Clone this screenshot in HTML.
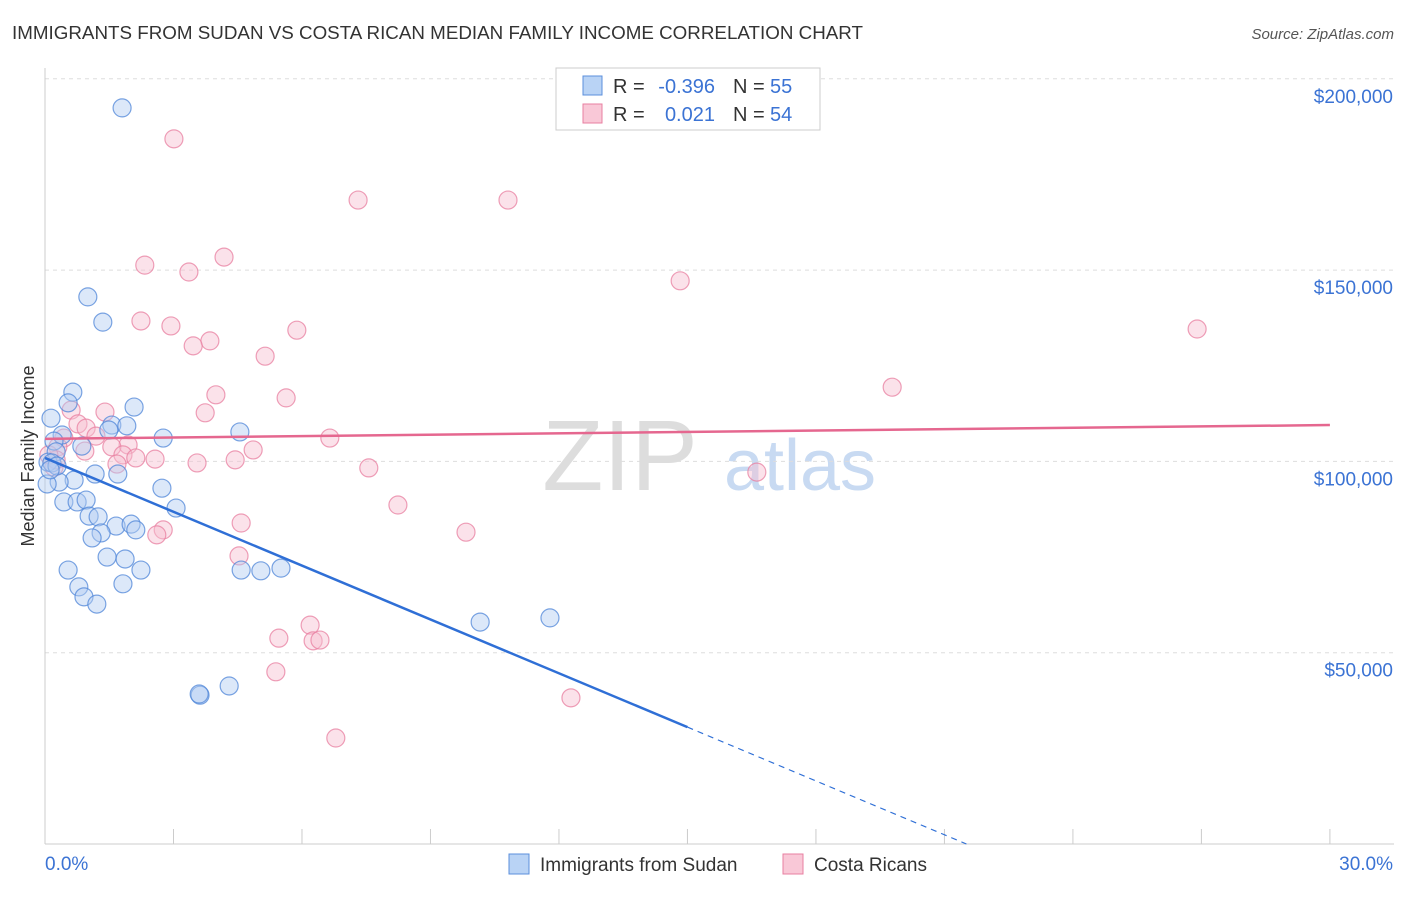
<!DOCTYPE html>
<html><head><meta charset="utf-8"><style>
body{margin:0;background:#fff;font-family:"Liberation Sans",sans-serif;}
svg text{font-family:"Liberation Sans",sans-serif;}
</style></head><body>
<svg id="chart" width="1406" height="892">
<text x="12" y="39" font-size="18" fill="#333" textLength="851" lengthAdjust="spacingAndGlyphs">IMMIGRANTS FROM SUDAN VS COSTA RICAN MEDIAN FAMILY INCOME CORRELATION CHART</text>
<text x="1394" y="39" font-size="15" fill="#555" text-anchor="end" font-style="italic">Source: ZipAtlas.com</text>
<text x="0" y="0" font-size="18" fill="#333" text-anchor="middle" transform="translate(34,456) rotate(-90)">Median Family Income</text>
<text x="620" y="490" font-size="100" fill="#ddd" font-family="Liberation Serif" text-anchor="middle">ZIP</text>
<text x="800" y="490" font-size="72" fill="#c8daf2" text-anchor="middle">atlas</text>
<g id="grid"></g><g id="marks"></g>
<g>
<rect x="556" y="68" width="264" height="62" fill="#fff" stroke="#ccc"/>
<rect x="583" y="76" width="19" height="19" fill="#b9d3f5" stroke="#5b8fdc"/>
<rect x="583" y="104" width="19" height="19" fill="#f9c8d7" stroke="#e87fa0"/>
<text x="613" y="93" font-size="20" fill="#333">R =</text>
<text x="715" y="93" font-size="20" fill="#3b73d4" text-anchor="end">-0.396</text>
<text x="733" y="93" font-size="20" fill="#333">N =</text>
<text x="770" y="93" font-size="20" fill="#3b73d4">55</text>
<text x="613" y="121" font-size="20" fill="#333">R =</text>
<text x="715" y="121" font-size="20" fill="#3b73d4" text-anchor="end">0.021</text>
<text x="733" y="121" font-size="20" fill="#333">N =</text>
<text x="770" y="121" font-size="20" fill="#3b73d4">54</text>
</g>
<g>
<rect x="509" y="854" width="20" height="20" fill="#b9d3f5" stroke="#5b8fdc"/>
<text x="540" y="871" font-size="19" fill="#333">Immigrants from Sudan</text>
<rect x="783" y="854" width="20" height="20" fill="#f9c8d7" stroke="#e87fa0"/>
<text x="814" y="871" font-size="19" fill="#333">Costa Ricans</text>
</g>
</svg>
<script>
const yTicks=[50,100,150,200];
const yTickLabels=["$50,000","$100,000","$150,000","$200,000"];
const xTickLabels=["0.0%","30.0%"];
const blueX=[1.80,1.00,1.35,0.65,0.54,2.08,0.14,1.56,1.91,1.49,0.40,2.76,4.55,0.21,0.26,0.86,0.07,1.70,1.17,0.68,0.33,0.05,2.73,0.44,0.75,0.96,3.06,1.03,1.24,1.66,2.01,2.12,1.31,1.10,1.45,1.87,0.54,2.24,4.58,5.04,5.51,0.79,0.91,1.82,1.21,10.16,11.79,3.62,4.30,3.60,0.16,0.28,0.12];
const blueY=[192.4,143.0,136.4,118.1,115.3,114.2,111.3,109.5,109.3,108.2,106.9,106.1,107.7,105.3,102.5,104.0,99.8,96.7,96.7,95.1,94.6,94.1,93.0,89.4,89.4,89.9,87.8,85.7,85.5,83.1,83.6,82.1,81.3,80.0,75.0,74.5,71.6,71.6,71.6,71.4,72.1,67.2,64.6,68.0,62.7,58.0,59.1,38.9,41.3,39.2,99.6,98.8,97.8];
const pinkX=[3.01,7.31,10.81,4.18,2.33,3.36,14.83,2.24,2.94,5.88,26.90,3.85,3.46,5.14,19.78,3.99,5.63,1.40,3.74,0.61,0.77,0.96,0.44,1.19,6.65,0.30,1.94,1.56,4.86,0.93,1.82,2.12,2.57,4.44,3.55,1.68,0.21,7.56,16.62,8.24,4.58,9.83,2.76,2.61,4.53,6.19,5.46,6.26,6.42,5.39,12.28,6.79,0.26,0.09];
const pinkY=[184.3,168.3,168.3,153.4,151.3,149.5,147.2,136.7,135.4,134.3,134.6,131.5,130.2,127.5,119.4,117.4,116.6,112.9,112.7,113.4,109.8,108.7,106.1,106.6,106.1,103.8,104.3,103.8,103.0,102.7,101.7,100.9,100.6,100.4,99.6,99.3,98.5,98.3,97.2,88.6,83.9,81.5,82.1,80.8,75.3,57.2,53.8,53.1,53.3,45.0,38.2,27.7,100.4,101.7];
const blueTrend=[100.9,-4.69];
const pinkTrend=[105.9,0.12];
const X=v=>45+v*42.83, Y=v=>844-v*3.826;
const NS="http://www.w3.org/2000/svg";
function mk(t,a,p){const e=document.createElementNS(NS,t);for(const k in a)e.setAttribute(k,a[k]);p.appendChild(e);return e;}
const grid=document.getElementById('grid'),marks=document.getElementById('marks');
yTicks.forEach((t,i)=>{
 const l=mk('line',{x1:45,x2:1394,y1:Y(t),y2:Y(t),stroke:'#ddd','stroke-dasharray':'4,4'},grid);
 
 
 const tx=mk('text',{x:1393,y:Y(t)+24,'font-size':19,fill:'#3b73d4','text-anchor':'end'},grid);
 tx.textContent=yTickLabels[i];
 
 
});
const ax=mk('line',{x1:45,x2:45,y1:68,y2:844,stroke:'#ccc'},grid);


const bx=mk('line',{x1:45,x2:1394,y1:844,y2:844,stroke:'#ccc'},grid);


for(let i=0;i<=10;i++){
 const t=mk('line',{x1:X(i*3),x2:X(i*3),y1:829,y2:844,stroke:'#ccc'},grid);
 
 
}
xTickLabels.forEach((s,i)=>{
 const t=mk('text',{x:i?1393:45,y:870,'font-size':19,fill:'#3b73d4','text-anchor':i?'end':'start'},grid);
 t.textContent=s;
 
 
});
function pts(xs,ys,fill,stroke,name){xs.forEach((x,i)=>{
 const c=mk('circle',{cx:X(x),cy:Y(ys[i]),r:9,fill:fill,'fill-opacity':0.45,stroke:stroke,'stroke-width':1.2,'stroke-opacity':0.75},marks);
 
 
});}
pts(pinkX,pinkY,'#f7bfd0','#e87fa0','costa-rican-point');
pts(blueX,blueY,'#b1cdf2','#4f86d8','sudan-point');
const pl=mk('line',{x1:X(0),y1:Y(pinkTrend[0]),x2:X(30),y2:Y(pinkTrend[0]+pinkTrend[1]*30),stroke:'#e5678f','stroke-width':2.5},marks);


const bl=mk('line',{x1:X(0),y1:Y(blueTrend[0]),x2:X(15),y2:Y(blueTrend[0]+blueTrend[1]*15),stroke:'#2f6fd6','stroke-width':2.5},marks);


const xe=-blueTrend[0]/blueTrend[1];
const bd=mk('line',{x1:X(15),y1:Y(blueTrend[0]+blueTrend[1]*15),x2:X(xe),y2:Y(0),stroke:'#2f6fd6','stroke-width':1.2,'stroke-dasharray':'6,5'},marks);


</script>
</body></html>
